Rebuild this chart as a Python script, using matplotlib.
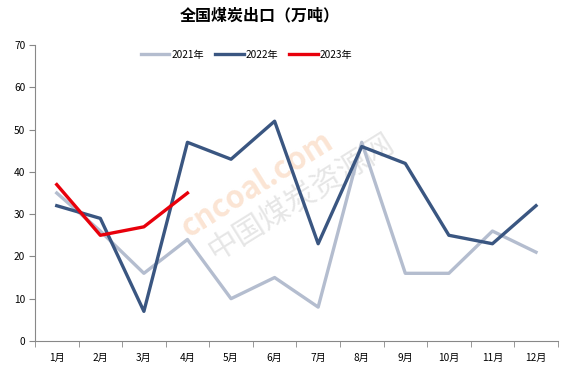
import numpy as np
import matplotlib.pyplot as plt
from matplotlib.ticker import FixedLocator

plt.rcParams['font.family'] = ['Noto Sans CJK SC', 'DejaVu Sans']

months = ['1月', '2月', '3月', '4月', '5月', '6月', '7月', '8月', '9月', '10月', '11月', '12月']
exp_2021 = [35, 26, 16, 24, 10, 15, 8, 47, 16, 16, 26, 21]
exp_2022 = [32, 29, 7, 47, 43, 52, 23, 46, 42, 25, 23, 32]
exp_2023 = [37, 25, 27, 35]

fig = plt.figure(figsize=(5.64, 3.73), dpi=100)
ax = fig.add_axes([0.062, 0.086, 0.927, 0.793])

x = np.arange(len(months))

# faint watermark
ax.text(4.6, 37, 'cncoal.com', color='#f8cfb0', fontsize=22, fontweight='bold',
        rotation=32, ha='center', va='center', alpha=0.55, zorder=0)
ax.text(5.6, 34, '中国煤炭资源网', color='#dcdcdc', fontsize=22,
        rotation=32, ha='center', va='center', alpha=0.7, zorder=0)

ax.plot(x, exp_2021, color='#b4bdcf', linewidth=2.4, label='2021年', zorder=2)
ax.plot(x, exp_2022, color='#3a5681', linewidth=2.4, label='2022年', zorder=3)
ax.plot(x[:len(exp_2023)], exp_2023, color='#e8000b', linewidth=2.4, label='2023年', zorder=4)

ax.set_xlim(-0.5, 11.5)
ax.set_ylim(0, 70)
ax.set_yticks(range(0, 71, 10))
ax.set_xticks(x)
ax.set_xticklabels(months)
ax.xaxis.set_minor_locator(FixedLocator(np.arange(-0.5, 12, 1)))
ax.tick_params(axis='x', which='major', length=0, pad=9, labelsize=7.3)
ax.tick_params(axis='x', which='minor', length=4, color='#888888', direction='out')
ax.tick_params(axis='y', length=4, color='#888888', labelsize=7.3, pad=3)

for side in ['top', 'right']:
    ax.spines[side].set_visible(False)
for side in ['left', 'bottom']:
    ax.spines[side].set_color('#888888')
    ax.spines[side].set_linewidth(0.8)

ax.legend(loc='upper center', bbox_to_anchor=(0.405, 1.015), ncol=3, frameon=False,
          fontsize=7.3, handlelength=2.8, handletextpad=0.2, columnspacing=1.1)

fig.suptitle('全国煤炭出口（万吨）', x=0.46, y=0.98, fontsize=11.5, fontweight='bold')

fig.savefig('out.png', dpi=100)
